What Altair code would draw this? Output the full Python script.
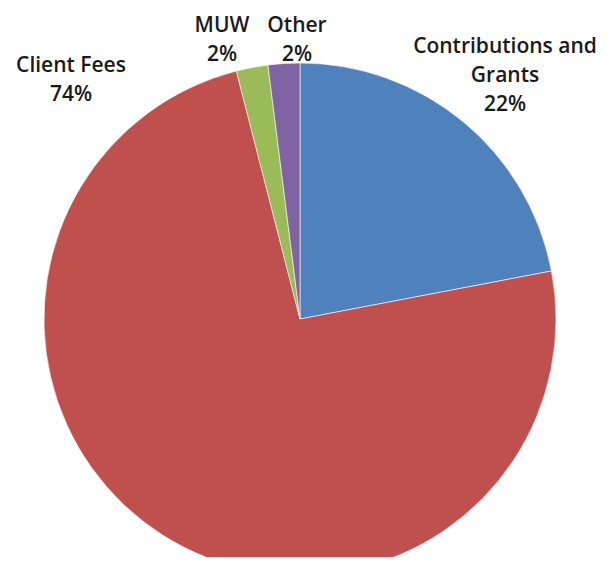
import altair as alt
import pandas as pd

categories = ["Contributions and Grants", "Client Fees", "MUW", "Other"]
values = [22, 74, 2, 2]
colors = ["#4F81BD", "#C0504D", "#9BBB59", "#8064A2"]
label_texts = [["Contributions and", "Grants", "22%"], ["Client Fees", "74%"], ["MUW", "2%"], ["Other", "2%"]]

df = pd.DataFrame({"category": categories, "value": values, "order": list(range(len(categories)))})

CX, CY, R = 292, 311, 256

pie = alt.Chart(df).mark_arc(stroke="white", strokeWidth=0.6, radius=R).encode(
    theta=alt.Theta("value:Q", stack=True),
    order=alt.Order("order:Q"),
    color=alt.Color("category:N", scale=alt.Scale(domain=categories, range=colors), legend=None),
    x=alt.value(CX),
    y=alt.value(CY),
)

# label layout (chart coordinates: x centre, first baseline)
label_layout = [(497, 45), (63, 64), (214, 24), (289, 24)]

layers = [pie]
for (lx, ly), txt in zip(label_layout, label_texts):
    layers.append(
        alt.Chart(pd.DataFrame({"t": [txt]})).mark_text(
            font="Open Sans", fontSize=21, fontWeight=600, color="#1a1a1a",
            align="center", baseline="alphabetic", lineHeight=29,
        ).encode(text="t", x=alt.value(lx), y=alt.value(ly))
    )

chart = alt.layer(*layers).properties(
    width=591, height=549, padding=0, autosize=alt.AutoSizeParams(type="none")
).configure_view(stroke=None)

chart.save("out.html", embed_options={"renderer": "svg", "actions": False})
